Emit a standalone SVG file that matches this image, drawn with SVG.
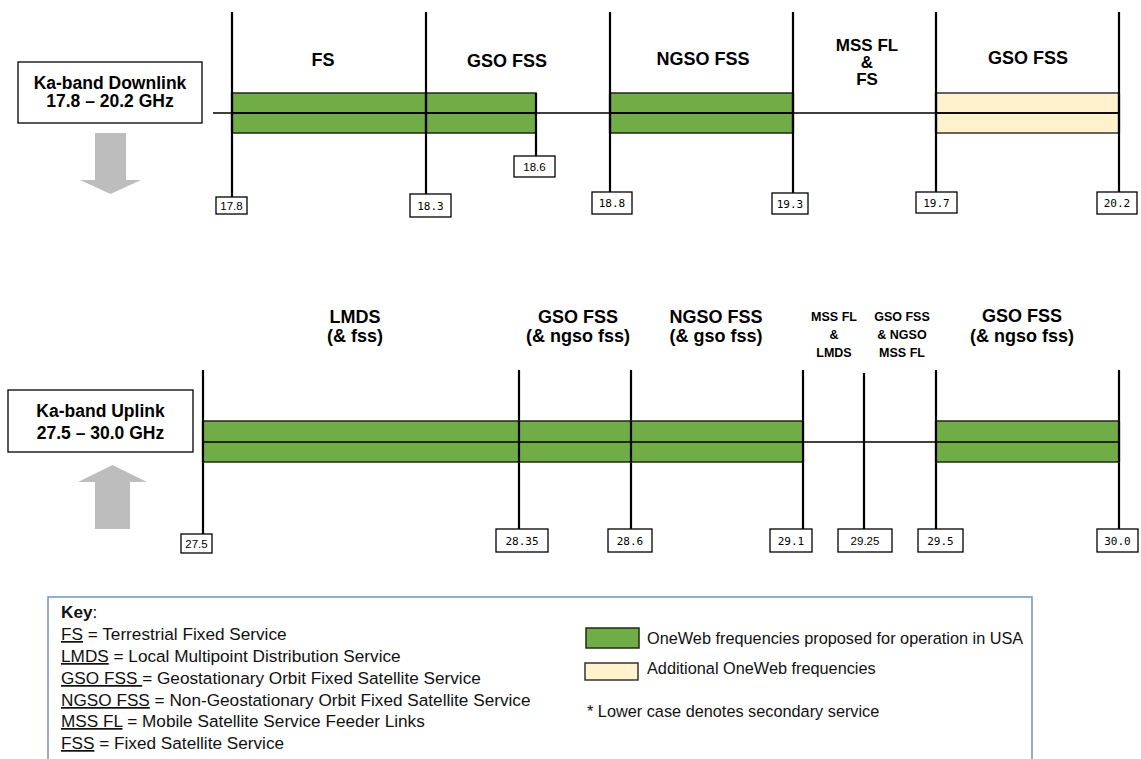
<svg xmlns="http://www.w3.org/2000/svg" width="1141" height="759" viewBox="0 0 1141 759">
<style>
.bg{fill:#ffffff}
.lbl{font-family:"Liberation Sans",Arial,sans-serif;font-weight:bold;font-size:18px;fill:#000;text-anchor:middle}
.sm{font-family:"Liberation Sans",Arial,sans-serif;font-weight:bold;font-size:12.5px;fill:#000;text-anchor:middle}
.ttl{font-family:"Liberation Sans",Arial,sans-serif;font-weight:bold;font-size:17.5px;fill:#000;text-anchor:middle}
.tick{font-family:"DejaVu Sans Mono","Liberation Mono",monospace;font-size:11px;fill:#000;text-anchor:middle}
.ticks{font-family:"Liberation Sans",Arial,sans-serif;font-size:11.5px;fill:#000;text-anchor:middle}
.tb{fill:#fff;stroke:#000;stroke-width:1.3}
.box{fill:#fff;stroke:#000;stroke-width:1.3}
.green{fill:#70ad47;stroke:#1f2a16;stroke-width:1.5}
.beige{fill:#fff2cc;stroke:#333;stroke-width:1.5}
.vl{stroke:#000;stroke-width:2.2;fill:none}
.hl{stroke:#000;stroke-width:1.5;fill:none}
.arrow{fill:#bdbdbd}
.key{font-family:"Liberation Sans",Arial,sans-serif;font-size:17.2px;fill:#111}
.leg{font-family:"Liberation Sans",Arial,sans-serif;font-size:16.3px;fill:#111}
</style>
<rect class="bg" x="0" y="0" width="1141" height="759"/>

<!-- ===== Downlink ===== -->
<g id="downlink-title">
  <rect class="box" x="18" y="62" width="184" height="61"/>
  <text class="ttl" x="110" y="89">Ka-band Downlink</text>
  <text class="ttl" x="110" y="107">17.8 – 20.2 GHz</text>
</g>
<g id="downlink-arrow">
  <polygon class="arrow" points="95,133 126,133 126,180 141,180 110.5,194 80,180 95,180"/>
</g>

<g id="dl-band1"><rect class="green" x="232" y="93" width="304" height="40"/></g>
<g id="dl-band2"><rect class="green" x="610" y="93" width="183" height="40"/></g>
<g id="dl-band3"><rect class="beige" x="936" y="93" width="183" height="40"/></g>

<g id="connectors">
  <!-- downlink axis -->
  <line class="hl" x1="213" y1="113" x2="1120" y2="113"/>
  <line class="vl" x1="232" y1="12" x2="232" y2="197"/>
  <line class="vl" x1="426" y1="12" x2="426" y2="194"/>
  <line class="vl" x1="536" y1="93" x2="536" y2="156"/>
  <line class="vl" x1="610" y1="12" x2="610" y2="192"/>
  <line class="vl" x1="793" y1="12" x2="793" y2="193"/>
  <line class="vl" x1="936" y1="12" x2="936" y2="192"/>
  <line class="vl" x1="1119" y1="12" x2="1119" y2="192"/>
  <!-- uplink axis -->
  <line class="hl" x1="803" y1="442" x2="936" y2="442"/>
  <line class="vl" x1="203" y1="370" x2="203" y2="534"/>
  <line class="vl" x1="519" y1="370" x2="519" y2="529"/>
  <line class="vl" x1="631" y1="370" x2="631" y2="529"/>
  <line class="vl" x1="803" y1="370" x2="803" y2="529"/>
  <line class="vl" x1="864" y1="373" x2="864" y2="529"/>
  <line class="vl" x1="936" y1="370" x2="936" y2="529"/>
  <line class="vl" x1="1119" y1="370" x2="1119" y2="529"/>
</g>

<g id="dl-midlines">
  <line class="hl" x1="232" y1="113" x2="536" y2="113"/>
  <line class="hl" x1="610" y1="113" x2="793" y2="113"/>
  <line class="hl" x1="936" y1="113" x2="1119" y2="113"/>
  <line class="vl" x1="232" y1="93" x2="232" y2="133"/>
  <line class="vl" x1="426" y1="93" x2="426" y2="133"/>
  <line class="vl" x1="610" y1="93" x2="610" y2="133"/>
  <line class="vl" x1="793" y1="93" x2="793" y2="133"/>
  <line class="vl" x1="936" y1="93" x2="936" y2="133"/>
  <line class="vl" x1="1119" y1="93" x2="1119" y2="133"/>
</g>

<g id="dl-labels">
  <text class="lbl" x="323" y="66">FS</text>
  <text class="lbl" x="507" y="67">GSO FSS</text>
  <text class="lbl" x="703" y="65">NGSO FSS</text>
  <text class="lbl" x="867" y="51" style="font-size:17px">MSS FL</text>
  <text class="lbl" x="867" y="68" style="font-size:17px">&amp;</text>
  <text class="lbl" x="867" y="85" style="font-size:17px">FS</text>
  <text class="lbl" x="1028" y="64">GSO FSS</text>
</g>

<g id="dl-tick-17-8"><rect class="tb" x="216" y="197" width="31" height="17"/><text class="ticks" x="231.5" y="210">17.8</text></g>
<g id="dl-tick-18-3"><rect class="tb" x="410" y="194" width="41" height="23"/><text class="tick" x="430.5" y="210">18.3</text></g>
<g id="dl-tick-18-6"><rect class="tb" x="514" y="156" width="41" height="21"/><text class="ticks" x="534.5" y="171">18.6</text></g>
<g id="dl-tick-18-8"><rect class="tb" x="592" y="192" width="40" height="22"/><text class="tick" x="612" y="207">18.8</text></g>
<g id="dl-tick-19-3"><rect class="tb" x="772" y="193" width="36" height="21"/><text class="tick" x="790" y="208">19.3</text></g>
<g id="dl-tick-19-7"><rect class="tb" x="916" y="192" width="41" height="21"/><text class="tick" x="936.5" y="207">19.7</text></g>
<g id="dl-tick-20-2"><rect class="tb" x="1097" y="192" width="40" height="22"/><text class="tick" x="1117" y="207">20.2</text></g>

<!-- ===== Uplink ===== -->
<g id="uplink-title">
  <rect class="box" x="8" y="390" width="185" height="62"/>
  <text class="ttl" x="100.5" y="417">Ka-band Uplink</text>
  <text class="ttl" x="100.5" y="439">27.5 – 30.0 GHz</text>
</g>
<g id="uplink-arrow">
  <polygon class="arrow" points="95,529 130,529 130,482 147,482 112.5,465 78,482 95,482"/>
</g>

<g id="ul-band1"><rect class="green" x="203" y="421" width="600" height="41"/></g>
<g id="ul-band2"><rect class="green" x="936" y="421" width="183" height="41"/></g>
<g id="ul-midlines">
  <line class="hl" x1="203" y1="442" x2="803" y2="442"/>
  <line class="hl" x1="936" y1="442" x2="1119" y2="442"/>
  <line class="vl" x1="203" y1="421" x2="203" y2="462"/>
  <line class="vl" x1="519" y1="421" x2="519" y2="462"/>
  <line class="vl" x1="631" y1="421" x2="631" y2="462"/>
  <line class="vl" x1="803" y1="421" x2="803" y2="462"/>
  <line class="vl" x1="936" y1="421" x2="936" y2="462"/>
  <line class="vl" x1="1119" y1="421" x2="1119" y2="462"/>
</g>

<g id="ul-labels">
  <text class="lbl" x="355" y="323">LMDS</text>
  <text class="lbl" x="355" y="342">(&amp; fss)</text>
  <text class="lbl" x="578" y="323">GSO FSS</text>
  <text class="lbl" x="578" y="342">(&amp; ngso fss)</text>
  <text class="lbl" x="716" y="323">NGSO FSS</text>
  <text class="lbl" x="716" y="342">(&amp; gso fss)</text>
  <text class="sm" x="834" y="321">MSS FL</text>
  <text class="sm" x="834" y="339">&amp;</text>
  <text class="sm" x="834" y="357">LMDS</text>
  <text class="sm" x="902" y="321">GSO FSS</text>
  <text class="sm" x="902" y="339">&amp; NGSO</text>
  <text class="sm" x="902" y="357">MSS FL</text>
  <text class="lbl" x="1022" y="322">GSO FSS</text>
  <text class="lbl" x="1022" y="342">(&amp; ngso fss)</text>
</g>

<g id="ul-tick-27-5"><rect class="tb" x="181" y="534" width="31" height="19"/><text class="ticks" x="196.5" y="548">27.5</text></g>
<g id="ul-tick-28-35"><rect class="tb" x="496" y="529" width="52" height="23"/><text class="tick" x="522" y="545">28.35</text></g>
<g id="ul-tick-28-6"><rect class="tb" x="608" y="529" width="44" height="23"/><text class="tick" x="630" y="545">28.6</text></g>
<g id="ul-tick-29-1"><rect class="tb" x="770" y="529" width="42" height="23"/><text class="tick" x="791" y="545">29.1</text></g>
<g id="ul-tick-29-25"><rect class="tb" x="838" y="529" width="54" height="23"/><text class="ticks" x="865" y="545">29.25</text></g>
<g id="ul-tick-29-5"><rect class="tb" x="918" y="529" width="45" height="23"/><text class="tick" x="940.5" y="545">29.5</text></g>
<g id="ul-tick-30-0"><rect class="tb" x="1097" y="529" width="41" height="23"/><text class="tick" x="1117.5" y="545">30.0</text></g>

<!-- ===== Key ===== -->
<g id="key">
  <rect x="48" y="597" width="984" height="180" fill="#fff" stroke="#7192bb" stroke-width="1.5"/>
  <text class="key" x="61" y="618"><tspan font-weight="bold">Key</tspan>:</text>
  <text class="key" x="61" y="640"><tspan text-decoration="underline">FS</tspan> = Terrestrial Fixed Service</text>
  <text class="key" x="61" y="662"><tspan text-decoration="underline">LMDS</tspan> = Local Multipoint Distribution Service</text>
  <text class="key" x="61" y="684"><tspan text-decoration="underline">GSO FSS </tspan>= Geostationary Orbit Fixed Satellite Service</text>
  <text class="key" x="61" y="706"><tspan text-decoration="underline">NGSO FSS</tspan> = Non-Geostationary Orbit Fixed Satellite Service</text>
  <text class="key" x="61" y="727"><tspan text-decoration="underline">MSS FL</tspan> = Mobile Satellite Service Feeder Links</text>
  <text class="key" x="61" y="749"><tspan text-decoration="underline">FSS</tspan> = Fixed Satellite Service</text>
</g>
<g id="legend">
  <rect x="586" y="628" width="53" height="20" fill="#70ad47" stroke="#1f2a16" stroke-width="1.5"/>
  <text class="leg" x="647" y="644">OneWeb frequencies proposed for operation in USA</text>
  <rect x="585" y="663" width="53" height="17" fill="#fff2cc" stroke="#333" stroke-width="1.5"/>
  <text class="leg" x="647" y="674">Additional OneWeb frequencies</text>
  <text class="leg" x="587" y="717">* Lower case denotes secondary service</text>
</g>
</svg>
